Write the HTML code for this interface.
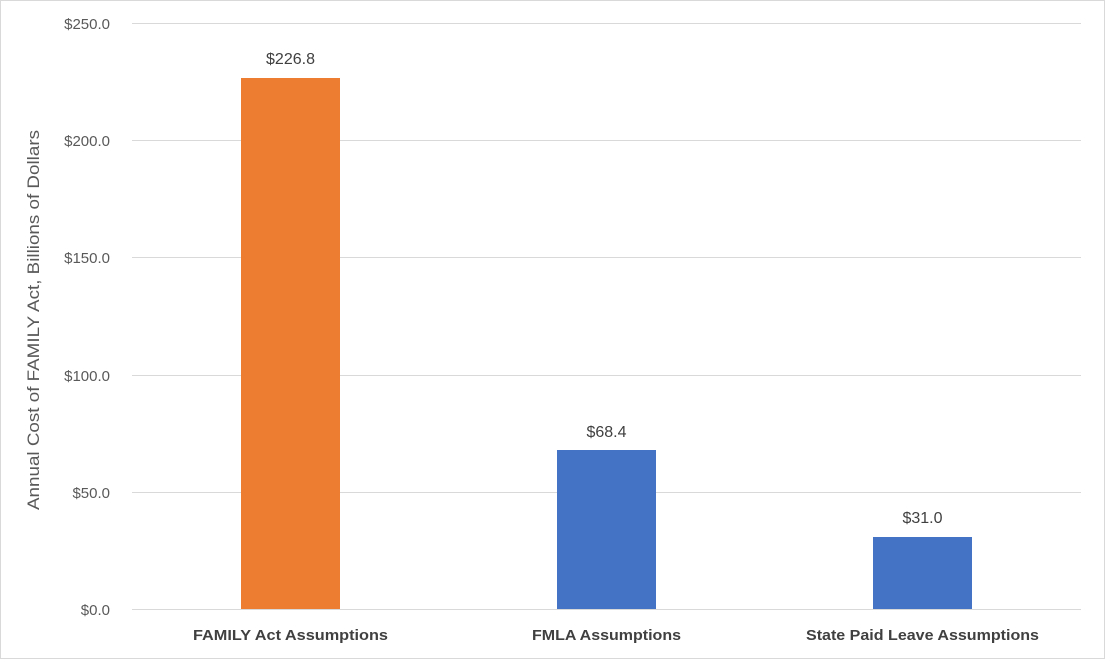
<!DOCTYPE html>
<html><head><meta charset="utf-8"><style>
body{margin:0;background:#fff;}
svg{display:block;font-family:"Liberation Sans",Arial,sans-serif;}
</style></head><body>
<svg width="1105" height="659" xmlns="http://www.w3.org/2000/svg">
<rect x="0.5" y="0.5" width="1104" height="658" fill="#fff" stroke="#d9d9d9"/>
<g stroke="#d9d9d9" stroke-width="1">
<line x1="132" y1="23.5" x2="1081" y2="23.5"/>
<line x1="132" y1="140.5" x2="1081" y2="140.5"/>
<line x1="132" y1="257.5" x2="1081" y2="257.5"/>
<line x1="132" y1="375.5" x2="1081" y2="375.5"/>
<line x1="132" y1="492.5" x2="1081" y2="492.5"/>
<line x1="132" y1="609.5" x2="1081" y2="609.5"/>
</g>
<g fill="#595959" font-size="15" text-anchor="end">
<text x="110" y="29">$250.0</text>
<text x="110" y="146">$200.0</text>
<text x="110" y="263">$150.0</text>
<text x="110" y="381">$100.0</text>
<text x="110" y="498">$50.0</text>
<text x="110" y="615">$0.0</text>
</g>
<text transform="translate(39,320) rotate(-90)" text-anchor="middle" fill="#595959" font-size="17" textLength="380" lengthAdjust="spacingAndGlyphs">Annual Cost of FAMILY Act, Billions of Dollars</text>
<rect x="241" y="78" width="99" height="531" fill="#ed7d31"/>
<rect x="557" y="450" width="99" height="159" fill="#4472c4"/>
<rect x="873" y="537" width="99" height="72" fill="#4472c4"/>
<g fill="#404040" font-size="16" text-anchor="middle">
<text x="290.5" y="64">$226.8</text>
<text x="606.5" y="437">$68.4</text>
<text x="922.5" y="523">$31.0</text>
</g>
<g fill="#404040" font-size="15" font-weight="bold" text-anchor="middle">
<text x="290.5" y="640" textLength="195" lengthAdjust="spacingAndGlyphs">FAMILY Act Assumptions</text>
<text x="606.5" y="640" textLength="149" lengthAdjust="spacingAndGlyphs">FMLA Assumptions</text>
<text x="922.5" y="640" textLength="233" lengthAdjust="spacingAndGlyphs">State Paid Leave Assumptions</text>
</g>
</svg>
</body></html>
